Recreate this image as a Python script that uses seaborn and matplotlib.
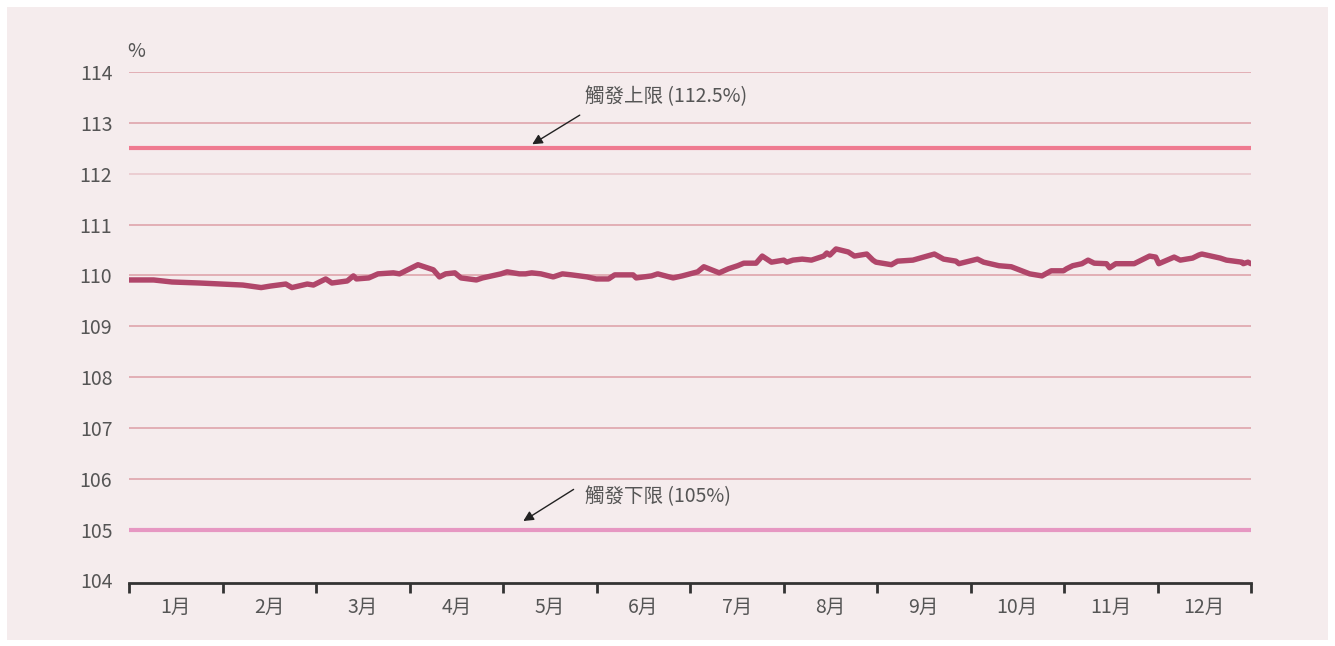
import numpy as np
import pandas as pd
import matplotlib
matplotlib.use("Agg")
import matplotlib.pyplot as plt
import seaborn as sns
from matplotlib.patches import Rectangle

# ---- data ----
days = [0, 8, 14, 23, 30, 37, 43, 46, 51, 53, 58, 60, 64, 66, 71, 73, 74, 78, 81, 86, 88,
        94, 99, 101, 103, 106, 108, 113, 115, 121, 123, 127, 129, 131, 134, 138, 141, 144,
        149, 152, 156, 158, 164, 165, 170, 172, 177, 180, 185, 187, 192, 195, 198, 200,
        204, 206, 209, 213, 214, 216, 219, 222, 226, 227, 228, 230, 234, 236, 240, 242,
        243, 248, 250, 255, 262, 265, 269, 270, 276, 278, 283, 287, 293, 297, 300, 304,
        305, 307, 310, 312, 314, 318, 319, 321, 327, 332, 334, 335, 340, 342, 346, 348,
        349, 355, 357, 362, 362.5, 364, 365]
ratio = [109.91, 109.91, 109.87, 109.85, 109.83, 109.81, 109.76, 109.79, 109.83, 109.76,
         109.83, 109.81, 109.93, 109.85, 109.89, 109.99, 109.93, 109.95, 110.03, 110.05,
         110.03, 110.21, 110.11, 109.97, 110.03, 110.05, 109.95, 109.91, 109.95, 110.03,
         110.07, 110.03, 110.03, 110.05, 110.03, 109.97, 110.03, 110.01, 109.97, 109.93,
         109.93, 110.01, 110.01, 109.95, 109.99, 110.03, 109.95, 109.99, 110.07, 110.17,
         110.05, 110.13, 110.19, 110.24, 110.24, 110.38, 110.26, 110.30, 110.26, 110.30,
         110.32, 110.30, 110.38, 110.44, 110.40, 110.52, 110.46, 110.38, 110.42, 110.30,
         110.26, 110.21, 110.28, 110.30, 110.42, 110.32, 110.28, 110.23, 110.32, 110.26,
         110.19, 110.17, 110.03, 109.99, 110.09, 110.09, 110.13, 110.19, 110.23, 110.30,
         110.24, 110.23, 110.15, 110.23, 110.23, 110.38, 110.36, 110.23, 110.36, 110.30,
         110.34, 110.40, 110.42, 110.34, 110.30, 110.26, 110.23, 110.26, 110.23]
months = ["1月", "2月", "3月", "4月", "5月", "6月", "7月", "8月", "9月", "10月", "11月", "12月"]
yticks = [104, 105, 106, 107, 108, 109, 110, 111, 112, 113, 114]
upper_limit = 112.5
lower_limit = 105.0
upper_label = "觸發上限 (112.5%)"
lower_label = "觸發下限 (105%)"

df = pd.DataFrame({"day": days, "ratio": ratio})

sns.set_theme(style="white")
plt.rcParams["font.family"] = ["Noto Sans CJK TC", "DejaVu Sans"]
plt.rcParams["font.weight"] = "light"

W, H = 1335, 646
fig = plt.figure(figsize=(W / 100, H / 100), dpi=100)
fig.patch.set_facecolor("white")
bg = "#f5eced"
fig.patches.append(Rectangle((7 / W, 6 / H), (1328 - 7) / W, (640 - 7) / H,
                             transform=fig.transFigure, facecolor=bg, edgecolor="none", zorder=-10))

ax = fig.add_axes([129 / W, 1 - 583 / H, (1251 - 129) / W, (583 - 72) / H])
ax.set_zorder(5)
ax.set_facecolor("none")
ax.patch.set_alpha(0)

# grid lines
for v in yticks[1:]:
    c = "#e9c6cb" if v == 112 else "#dd9ea6"
    ax.axhline(v, color=c, lw=1.1, zorder=1)

ax.axhline(upper_limit, color="#ef7a90", lw=3, zorder=2)
ax.axhline(lower_limit, color="#e697c2", lw=3, zorder=2)

sns.lineplot(data=df, x="day", y="ratio", ax=ax, color="#b0466a", lw=3.9, zorder=3)

fs = 14
tc = "#555555"
ax.set_xlim(0, 365)
ax.set_ylim(103.95, 114)
ax.set_yticks(yticks)
ax.set_yticklabels([str(v) for v in yticks], fontsize=fs, color=tc, fontweight="light")
mw = 365 / 12
ax.set_xticks([i * mw for i in range(13)])
ax.set_xticklabels([])
ax.set_xticks([(i + 0.5) * mw for i in range(12)], minor=True)
ax.set_xticklabels(months, minor=True, fontsize=fs, color=tc, fontweight="light")
ax.tick_params(axis="x", which="major", length=7, width=2, color="#333333", direction="out", bottom=True)
ax.tick_params(axis="x", which="minor", length=0, pad=10, bottom=True)
ax.tick_params(axis="y", length=0, pad=12)
ax.set_xlabel("")
ax.set_ylabel("")
for s in ["top", "right", "left"]:
    ax.spines[s].set_visible(False)
ax.spines["bottom"].set_color("#333333")
ax.spines["bottom"].set_linewidth(2)

ax.text(-0.5, 114.2, "%", fontsize=fs, color=tc, ha="left", va="bottom", fontweight="light")

# annotations
ax.annotate("", xy=(130.4, 112.55), xytext=(147.4, 113.18),
            arrowprops=dict(arrowstyle="-|>", color="#222222", lw=1, mutation_scale=15))
ax.text(148.3, 113.52, upper_label, fontsize=fs, color=tc, ha="left", va="center", fontweight="light")
ax.annotate("", xy=(127.5, 105.14), xytext=(145.4, 105.82),
            arrowprops=dict(arrowstyle="-|>", color="#222222", lw=1, mutation_scale=15))
ax.text(148.3, 105.64, lower_label, fontsize=fs, color=tc, ha="left", va="center", fontweight="light")

fig.savefig("out.png", dpi=100, facecolor=fig.get_facecolor())
